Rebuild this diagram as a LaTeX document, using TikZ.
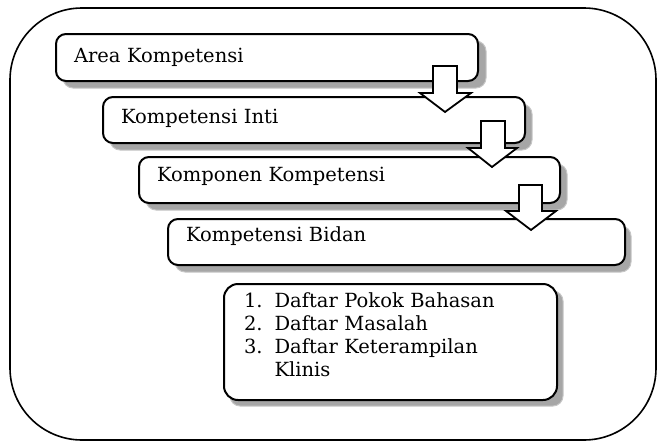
\documentclass[tikz,border=0pt]{standalone}
\usepackage{fontspec}
\setmainfont{DejaVu Serif}
\newcommand{\liftup}[2]{\raisebox{#1}[\height][\depth]{#2}}
\begin{document}
\begin{tikzpicture}[x=1pt,y=-1pt,
  box/.style={draw=black, line width=2pt, fill=white, rounded corners=10pt, anchor=north west, inner xsep=18pt, inner ysep=0pt, align=left, font=\fontsize{19.5}{23}\selectfont},
  shade/.style={fill=gray!70, draw=gray!45, line width=1pt, rounded corners=10pt},
  blockarrow/.style={draw=black, line width=1.8pt, fill=white, line join=miter}]
\useasboundingbox (0,0) rectangle (659,442);
\draw[line width=1.6pt, rounded corners=72pt] (10,8) rectangle (656,440);
% shadows
\fill[shade] (63,41) rectangle (486,88);
\fill[shade] (110,104) rectangle (532,150);
\fill[shade] (146,164) rectangle (567,210);
\fill[shade] (175,226) rectangle (631,272);
\fill[shade] (230,291) rectangle (563,406);
% boxes
\node[box, minimum width=422pt, minimum height=47pt, text width=386pt] (b1) at (55,33) {Area Kompetensi};
\node[box, minimum width=422pt, minimum height=46pt, text width=386pt] (b2) at (102,96) {\liftup{2pt}{Kompetensi Inti}};
\node[box, minimum width=421pt, minimum height=46pt, text width=385pt] (b3) at (138,156) {\liftup{4pt}{Komponen Kompetensi}};
\node[box, minimum width=457pt, minimum height=46pt, text width=421pt] (b4) at (167,218) {\liftup{6pt}{Kompetensi Bidan}};
\node[box, minimum width=333pt, minimum height=116pt, text width=293pt, inner xsep=20pt, rounded corners=14pt] (b5) at (223,283) {\liftup{5pt}{\begin{tabular}{@{}l@{\hspace{12pt}}l@{}}1. & Daftar Pokok Bahasan\\ 2. & Daftar Masalah\\ 3. & Daftar Keterampilan\\ & Klinis\end{tabular}}};
% block arrows
\draw[blockarrow] (433,66) -- (457,66) -- (457,93) -- (471,93) -- (445,112) -- (420,93) -- (433,93) -- cycle;
\draw[blockarrow] (481,121) -- (505,121) -- (505,148) -- (517,148) -- (492,167) -- (468,148) -- (481,148) -- cycle;
\draw[blockarrow] (519,185) -- (542,185) -- (542,211) -- (556,211) -- (531,230) -- (506,211) -- (519,211) -- cycle;
\end{tikzpicture}
\end{document}
